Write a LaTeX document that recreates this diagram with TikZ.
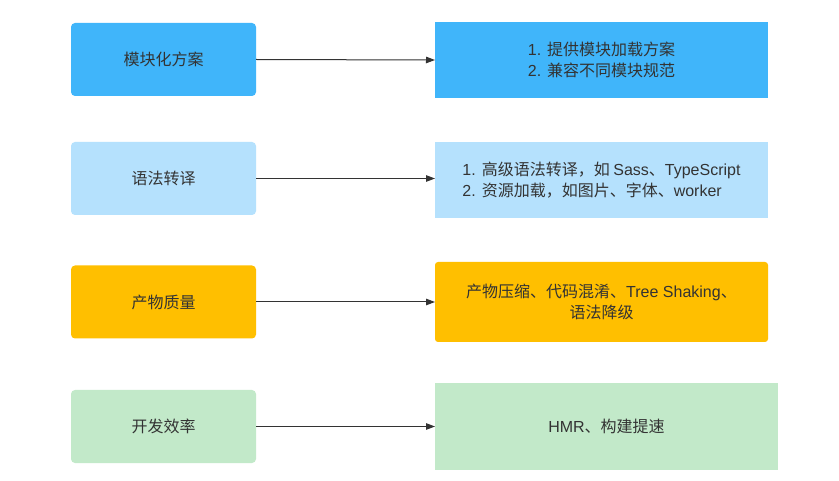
\documentclass[tikz,border=0pt]{standalone}
\usepackage{fontspec}
\setmainfont{Noto Sans CJK SC}
\newfontfamily\lat{Liberation Sans}
\usetikzlibrary{arrows.meta}
\definecolor{cblue}{RGB}{64,181,250}
\definecolor{clight}{RGB}{181,225,253}
\definecolor{corange}{RGB}{255,191,0}
\definecolor{cgreen}{RGB}{194,233,201}
\definecolor{ctext}{RGB}{51,51,51}
\definecolor{carrow}{RGB}{51,51,51}
\begin{document}
\begin{tikzpicture}[x=1pt,y=-1pt,
  every node/.style={font=\fontsize{16}{21.5}\selectfont, text=ctext, inner sep=0pt, outer sep=0pt},
  lbox/.style={rounded corners=4pt, minimum width=185pt, minimum height=73pt},
  rbox/.style={minimum width=333pt, align=left},
  arr/.style={draw=carrow, line width=1pt, -{Triangle[length=9pt,width=6.5pt]}}]
\useasboundingbox (0,0) rectangle (839,481);
\fill[white] (0,0) rectangle (839,481);
% left boxes
\node[lbox, fill=cblue] (l1) at (163.5,59.5) {模块化方案};
\node[lbox, fill=clight] (l2) at (163.5,178.5) {语法转译};
\node[lbox, fill=corange] (l3) at (163.5,302) {产物质量};
\node[lbox, fill=cgreen] (l4) at (163.5,426.5) {开发效率};
% right boxes
\node[rbox, fill=cblue, minimum height=76pt] (r1) at (601.5,60) {{\lat 1. }提供模块加载方案\\{\lat 2. }兼容不同模块规范};
\node[rbox, fill=clight, minimum height=76pt] (r2) at (601.5,180) {{\lat 1. }高级语法转译，如 {\lat Sass}、{\lat TypeScript}\\{\lat 2. }资源加载，如图片、字体、{\lat worker}};
\node[rbox, fill=corange, minimum height=80pt, rounded corners=3pt, align=center] (r3) at (601.5,302) {产物压缩、代码混淆、{\lat Tree Shaking}、\\语法降级};
\node[fill=cgreen, minimum width=343pt, minimum height=87pt] (r4) at (606.5,426.5) {{\lat HMR}、构建提速};
% arrows
\draw[arr] (l1.east) -- (r1.west);
\draw[arr] (l2.east) -- (l2.east -| r2.west);
\draw[arr] (l3.east) -- (r3.west);
\draw[arr] (l4.east) -- (r4.west);
\end{tikzpicture}
\end{document}
